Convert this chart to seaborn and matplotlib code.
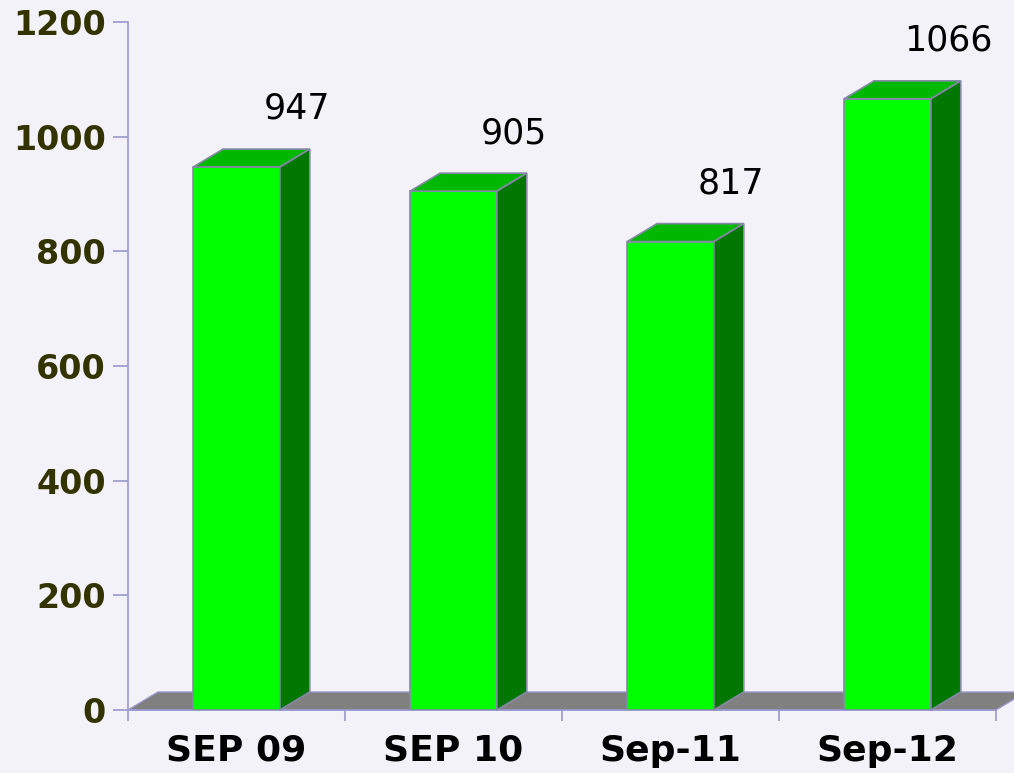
import matplotlib
matplotlib.use('Agg')
import matplotlib.pyplot as plt
from matplotlib.patches import Polygon
import seaborn as sns

# Chart data
periods = ['SEP 09', 'SEP 10', 'Sep-11', 'Sep-12']
counts = [947, 905, 817, 1066]
y_ticks = [0, 200, 400, 600, 800, 1000, 1200]

bg = '#f3f2f8'
sns.set_style('white')
plt.rcParams['font.family'] = ['DejaVu Sans']

fig = plt.figure(figsize=(10.14, 7.73), dpi=100, facecolor=bg)
ax = fig.add_axes([0.1262, 0.0815, 0.856, 0.89])
ax.set_facecolor(bg)

# 3D depth of the bars / floor
dx = 0.138
dy = 31.4

sns.barplot(x=periods, y=counts, width=0.4, color='#00ff00', saturation=1,
            edgecolor='#8888aa', linewidth=1.2, ax=ax, zorder=3)

ax.set_xlim(-0.5, 3.5)
ax.set_ylim(0, 1200)

# gray floor
floor = Polygon([(-0.5, 0), (3.5, 0), (3.5 + dx, dy), (-0.5 + dx, dy)],
                closed=True, facecolor='#808080', edgecolor='#9999cc',
                linewidth=1, zorder=1, clip_on=False)
ax.add_patch(floor)

for p in ax.patches[:len(counts)]:
    x0 = p.get_x()
    w = p.get_width()
    h = p.get_height()
    top = Polygon([(x0, h), (x0 + w, h), (x0 + w + dx, h + dy), (x0 + dx, h + dy)],
                  closed=True, facecolor='#00b800', edgecolor='#8888aa',
                  linewidth=1.2, zorder=3, clip_on=False)
    side = Polygon([(x0 + w, 0), (x0 + w + dx, dy), (x0 + w + dx, h + dy), (x0 + w, h)],
                   closed=True, facecolor='#007800', edgecolor='#8888aa',
                   linewidth=1.2, zorder=3, clip_on=False)
    ax.add_patch(top)
    ax.add_patch(side)
    ax.text(x0 + w / 2 + 0.28, h + dy + 70, f'{int(round(h))}',
            ha='center', va='center', fontsize=25, color='black', zorder=5)

# axes styling
for s in ['top', 'right']:
    ax.spines[s].set_visible(False)
ax.spines['left'].set_color('#9999cc')
ax.spines['bottom'].set_color('#9999cc')
ax.spines['left'].set_linewidth(1.2)
ax.spines['bottom'].set_linewidth(1.2)
ax.spines['left'].set_zorder(4)
ax.spines['bottom'].set_zorder(2)

ax.set_yticks(y_ticks)
ax.set_yticklabels([str(t) for t in y_ticks], fontsize=24, fontweight='bold',
                   color='#333300')
ax.tick_params(axis='y', direction='out', length=11, width=1.2,
               color='#9999cc', pad=5, left=True)

ax.set_xticks(range(len(periods)))
ax.set_xticklabels(periods, fontsize=26, fontweight='bold', color='black')
ax.tick_params(axis='x', which='major', length=0, pad=17)
ax.set_xticks([-0.5, 0.5, 1.5, 2.5, 3.5], minor=True)
ax.tick_params(axis='x', which='minor', direction='out', length=8, width=1.2,
               color='#9999cc', bottom=True)

ax.set_xlabel('')
ax.set_ylabel('')

plt.savefig('out.png', dpi=100, facecolor=bg)
